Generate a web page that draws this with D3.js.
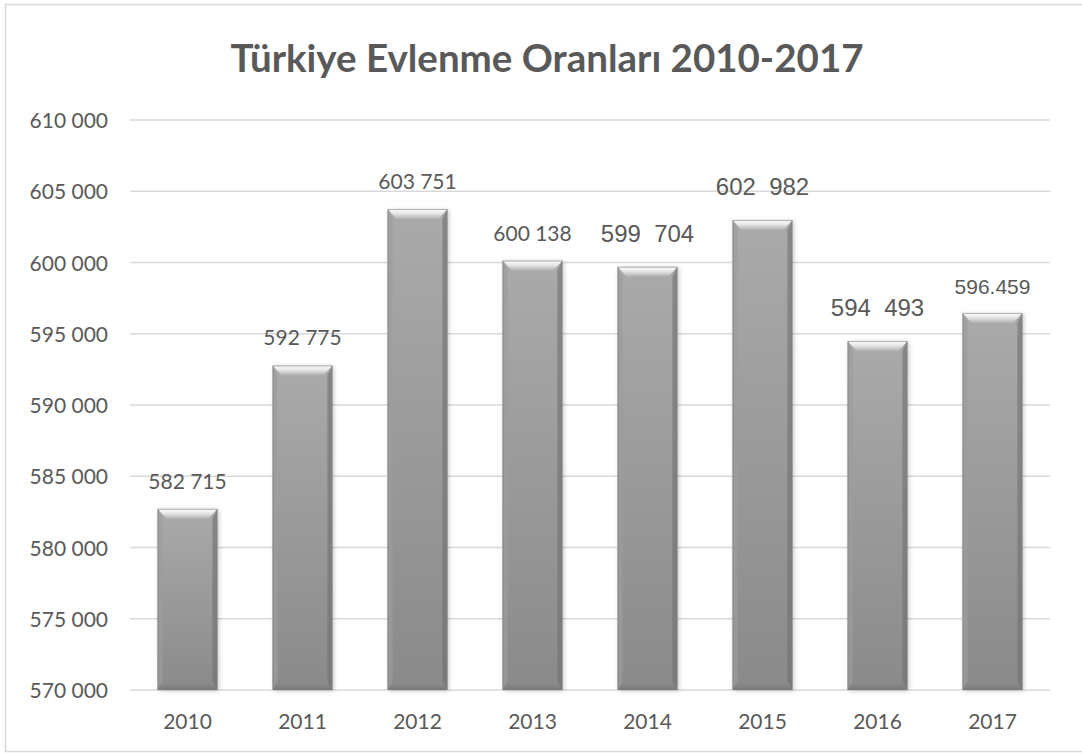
<!DOCTYPE html>
<html><head><meta charset="utf-8">
<script src="https://cdn.jsdelivr.net/npm/d3@7/dist/d3.min.js"></script>
<style>html,body{margin:0;padding:0;background:#fff;}svg{display:block;}</style>
</head><body>
<script>
const years = ["2010","2011","2012","2013","2014","2015","2016","2017"];
const values = [582715, 592775, 603751, 600138, 599704, 602982, 594493, 596459];
const labelTexts = ["582 715","592 775","603 751","600 138","599  704","602  982","594  493","596.459"];
const labelFonts = ["c","c","c","c","a","a","a","a2"];
const yTicks = [570000,575000,580000,585000,590000,595000,600000,605000,610000];
const yTickLabels = ["570 000","575 000","580 000","585 000","590 000","595 000","600 000","605 000","610 000"];
const titleText = "Türkiye Evlenme Oranları 2010-2017";

const W = 1082, H = 753;
const svg = d3.select("body").append("svg").attr("width", W).attr("height", H);
const defs = svg.append("defs");
const face = defs.append("linearGradient").attr("id","face").attr("x1",0).attr("y1",0).attr("x2",0).attr("y2",1);
face.append("stop").attr("offset","0%").attr("stop-color","#aaaaaa");
face.append("stop").attr("offset","100%").attr("stop-color","#8a8a8a");
const topG = defs.append("linearGradient").attr("id","topb").attr("x1",0).attr("y1",0).attr("x2",0).attr("y2",1);
topG.append("stop").attr("offset","0%").attr("stop-color","#ffffff");
topG.append("stop").attr("offset","45%").attr("stop-color","#e6e6e6");
topG.append("stop").attr("offset","100%").attr("stop-color","#b0b0b0");
const botG = defs.append("linearGradient").attr("id","botb").attr("x1",0).attr("y1",0).attr("x2",0).attr("y2",1);
botG.append("stop").attr("offset","0%").attr("stop-color","#8a8a8a").attr("stop-opacity",0);
botG.append("stop").attr("offset","100%").attr("stop-color","#6a6a6a").attr("stop-opacity",0.6);
const sh = defs.append("filter").attr("id","shadow").attr("x","-20%").attr("y","-5%").attr("width","140%").attr("height","110%");
sh.append("feDropShadow").attr("dx",1.5).attr("dy",1).attr("stdDeviation",2).attr("flood-color","#000").attr("flood-opacity",0.22);

const font = "Lato, 'Open Sans', sans-serif";
const arial = "'Liberation Sans', Arial, sans-serif";
const textCol = "#595959";

// border
svg.append("rect").attr("x",5.5).attr("y",4.5).attr("width",1090).attr("height",747)
  .attr("fill","none").attr("stroke","#d9d9d9").attr("stroke-width",1.5);

const x = d3.scaleBand().domain(years).range([130,1050]).paddingInner(0.48).paddingOuter(0.24);
const y = d3.scaleLinear().domain([570000,610000]).range([690,120]);

// gridlines
svg.append("g").selectAll("line").data(yTicks).join("line")
  .attr("x1",130).attr("x2",1050).attr("y1",d=>y(d)).attr("y2",d=>y(d))
  .attr("stroke","#d9d9d9").attr("stroke-width",1.5);

// y axis labels
const yAxis = d3.axisLeft(y).tickValues(yTicks).tickSize(0).tickPadding(0)
  .tickFormat((d,i)=>yTickLabels[i]);
const ya = svg.append("g").attr("transform","translate(108,0)").call(yAxis);
ya.select(".domain").remove();
ya.selectAll("text").attr("font-family",font).attr("font-size",21).attr("fill",textCol).attr("dy","0.36em");

// x axis labels
const xAxis = d3.axisBottom(x).tickSize(0).tickPadding(0);
const xa = svg.append("g").attr("transform","translate(0,713)").call(xAxis);
xa.select(".domain").remove();
xa.selectAll("text").attr("font-family",font).attr("font-size",21).attr("fill",textCol).attr("dy","0.77em");

// bars
const bt = 10, bs = 5, bb = 9;
const bars = svg.append("g").selectAll("g").data(years).join("g");
bars.each(function(d,i){
  const g = d3.select(this);
  const x0 = x(d), x1 = x(d)+x.bandwidth(), y0 = y(values[i]), y1 = y(570000);
  g.append("rect").attr("x",x0).attr("y",y0).attr("width",x1-x0).attr("height",y1-y0)
    .attr("fill","url(#face)").attr("filter","url(#shadow)");
  // left bevel
  g.append("polygon").attr("points",[[x0,y0],[x0+bs,y0+bt],[x0+bs,y1-bb],[x0,y1]].join(" "))
    .attr("fill","#9c9c9c").attr("opacity",0.7);
  // right bevel
  g.append("polygon").attr("points",[[x1,y0],[x1-bs,y0+bt],[x1-bs,y1-bb],[x1,y1]].join(" "))
    .attr("fill","#6f6f6f").attr("opacity",0.6);
  // bottom bevel
  g.append("polygon").attr("points",[[x0,y1],[x0+bs,y1-bb],[x1-bs,y1-bb],[x1,y1]].join(" "))
    .attr("fill","url(#botb)");
  // top bevel
  g.append("polygon").attr("points",[[x0,y0],[x1,y0],[x1-bs-4,y0+bt],[x0+bs+4,y0+bt]].join(" "))
    .attr("fill","url(#topb)");
  g.append("rect").attr("x",x0+0.5).attr("y",y0+0.5).attr("width",x1-x0-1).attr("height",y1-y0-1)
    .attr("fill","none").attr("stroke","#7f7f7f").attr("stroke-width",1).attr("opacity",0.6);
});

// value labels
svg.append("g").selectAll("text").data(years).join("text")
  .attr("x",d=>x(d)+x.bandwidth()/2)
  .attr("y",(d,i)=>y(values[i]) - (labelFonts[i]==="c"?20:(labelFonts[i]==="a2"?19:25)))
  .attr("text-anchor","middle")
  .attr("font-family",(d,i)=>labelFonts[i]==="c"?font:arial)
  .attr("font-size",(d,i)=>labelFonts[i]==="c"?21:(labelFonts[i]==="a2"?21:24))
  .attr("fill",textCol)
  .attr("xml:space","preserve").style("white-space","pre")
  .text((d,i)=>labelTexts[i]);

// title
svg.append("text").attr("x",547).attr("y",72).attr("text-anchor","middle")
  .attr("font-family",font).attr("font-weight","bold").attr("font-size",38.5)
  .attr("fill",textCol).text(titleText);
</script>
</body></html>
